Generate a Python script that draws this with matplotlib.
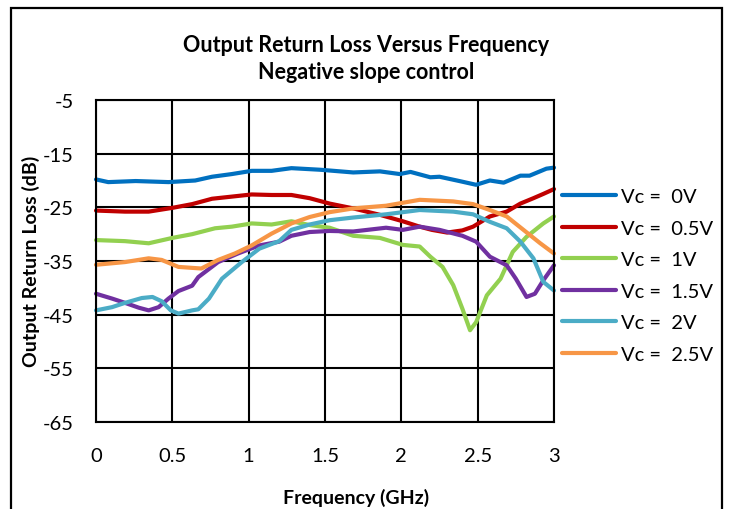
import matplotlib
matplotlib.use("Agg")
import matplotlib.pyplot as plt
from matplotlib.patches import Rectangle

plt.rcParams['font.family'] = ['Lato', 'DejaVu Sans']
plt.rcParams['axes.unicode_minus'] = False

W, H = 730, 510

# Output return loss (dB) versus frequency (GHz) for each control voltage
f_0v = [0, 0.08, 0.26, 0.475, 0.65, 0.76, 0.89, 1.02, 1.15, 1.28, 1.47, 1.685, 1.86,
        1.99, 2.06, 2.19, 2.25, 2.38, 2.49, 2.58, 2.67, 2.78, 2.84, 2.95, 3.0]
rl_0v = [-19.8, -20.3, -20.1, -20.3, -20.0, -19.3, -18.8, -18.2, -18.2, -17.7, -18.0, -18.5, -18.3,
         -18.8, -18.4, -19.4, -19.3, -20.1, -20.8, -20.0, -20.4, -19.1, -19.1, -17.8, -17.6]

f_05v = [0, 0.19, 0.345, 0.5, 0.63, 0.76, 0.89, 1.02, 1.15, 1.28, 1.4, 1.53, 1.685,
         1.86, 2.01, 2.12, 2.20, 2.30, 2.40, 2.47, 2.58, 2.69, 2.78, 2.865, 2.93, 3.0]
rl_05v = [-25.6, -25.8, -25.8, -25.1, -24.4, -23.4, -23.0, -22.6, -22.7, -22.7, -23.3, -24.3, -25.2,
          -26.4, -27.6, -28.6, -29.2, -29.7, -29.3, -28.6, -26.7, -25.8, -24.3, -23.3, -22.5, -21.6]

f_1v = [0, 0.19, 0.345, 0.5, 0.63, 0.78, 0.89, 1.02, 1.15, 1.28, 1.4, 1.53, 1.685, 1.86,
        2.01, 2.12, 2.19, 2.27, 2.34, 2.40, 2.45, 2.49, 2.56, 2.65, 2.73, 2.82, 2.93, 3.0]
rl_1v = [-31.1, -31.3, -31.7, -30.7, -30.0, -28.9, -28.6, -28.0, -28.2, -27.6, -28.3, -28.8, -30.3, -30.7,
         -32.0, -32.3, -34.2, -36.1, -39.5, -43.9, -47.9, -46.4, -41.4, -38.3, -33.3, -30.5, -28.0, -26.7]

f_15v = [0, 0.105, 0.19, 0.28, 0.345, 0.41, 0.475, 0.54, 0.63, 0.67, 0.80, 0.93, 1.07, 1.20, 1.28,
         1.40, 1.53, 1.685, 1.90, 2.01, 2.12, 2.25, 2.40, 2.49, 2.58, 2.69, 2.75, 2.82, 2.875, 2.93, 3.0]
rl_15v = [-41.1, -42.0, -42.8, -43.7, -44.2, -43.6, -42.0, -40.6, -39.6, -38.0, -35.2, -33.6, -32.1, -31.4, -30.3,
          -29.6, -29.4, -29.5, -28.8, -29.2, -28.6, -29.2, -30.3, -31.4, -34.2, -35.8, -38.3, -41.7, -41.1, -38.6, -35.8]

f_2v = [0, 0.105, 0.19, 0.30, 0.37, 0.43, 0.49, 0.54, 0.63, 0.67, 0.74, 0.825, 0.955, 1.07, 1.20,
        1.28, 1.40, 1.53, 1.685, 1.90, 2.12, 2.34, 2.47, 2.58, 2.69, 2.78, 2.865, 2.93, 3.0]
rl_2v = [-44.2, -43.6, -42.8, -41.9, -41.7, -42.5, -44.2, -44.8, -44.2, -44.0, -42.0, -38.3, -35.2, -32.7, -31.3,
         -29.2, -28.2, -27.4, -26.9, -26.3, -25.5, -25.8, -26.3, -27.7, -28.9, -31.4, -34.5, -38.9, -40.5]

f_25v = [0, 0.19, 0.345, 0.43, 0.54, 0.69, 0.80, 0.91, 1.02, 1.15, 1.28, 1.40, 1.53,
         1.685, 1.90, 2.12, 2.34, 2.47, 2.58, 2.69, 2.80, 2.91, 3.0]
rl_25v = [-35.7, -35.2, -34.5, -34.8, -36.1, -36.4, -34.8, -33.6, -32.1, -29.9, -28.0, -26.8, -25.9,
          -25.2, -24.7, -23.6, -23.9, -24.4, -25.5, -26.7, -29.2, -31.7, -33.6]

labels = ["Vc =  0V", "Vc =  0.5V", "Vc =  1V", "Vc =  1.5V", "Vc =  2V", "Vc =  2.5V"]
colors = ["#0070C0", "#C00000", "#92D050", "#7030A0", "#4BACC6", "#F79646"]

x_ticks = [0, 0.5, 1, 1.5, 2, 2.5, 3]
x_tick_labels = ["0", "0.5", "1", "1.5", "2", "2.5", "3"]
y_ticks = [-65, -55, -45, -35, -25, -15, -5]

fig = plt.figure(figsize=(W / 100, H / 100), dpi=100)
ax = fig.add_axes([96 / W, 1 - 423 / H, (554 - 96) / W, (423 - 101) / H])

series = [(f_0v, rl_0v), (f_05v, rl_05v), (f_1v, rl_1v),
          (f_15v, rl_15v), (f_2v, rl_2v), (f_25v, rl_25v)]
for (f, rl), lab, c in zip(series, labels, colors):
    ax.plot(f, rl, color=c, lw=3.0, label=lab,
            solid_joinstyle='round', solid_capstyle='round', clip_on=False)

ax.set_xlim(0, 3)
ax.set_ylim(-65, -5)
ax.set_xticks(x_ticks)
ax.set_xticklabels(x_tick_labels)
ax.set_yticks(y_ticks)
ax.grid(True, color='black', lw=1.5)
ax.set_axisbelow(True)
for s in ax.spines.values():
    s.set_color('black')
    s.set_linewidth(1.5)
ax.tick_params(axis='both', length=0, labelsize=14.5)
ax.tick_params(axis='y', pad=16)
ax.tick_params(axis='x', pad=18)

fig.text(366 / W, 1 - 45 / H, "Output Return Loss Versus Frequency",
         ha='center', va='center', fontsize=15.5, fontweight='bold')
fig.text(366 / W, 1 - 73 / H, "Negative slope control",
         ha='center', va='center', fontsize=15.5, fontweight='bold')
fig.text(356 / W, 1 - 498 / H, "Frequency (GHz)",
         ha='center', va='center', fontsize=14, fontweight='bold')
fig.text(31 / W, 1 - 261 / H, "Output Return Loss (dB)", rotation=90,
         ha='center', va='center', fontsize=14, fontweight='bold')

ax.legend(loc='upper left', bbox_to_anchor=(562 / W, 1 - 189 / H),
          bbox_transform=fig.transFigure, frameon=False, fontsize=14.5,
          handlelength=2.7, handletextpad=0.25, labelspacing=0.72,
          borderpad=0, borderaxespad=0)

fig.add_artist(Rectangle((11 / W, -0.02), (722 - 11) / W, (H - 9) / H + 0.02,
                         transform=fig.transFigure, fill=False,
                         ec='black', lw=1.6))

fig.savefig("out.png", dpi=100)
